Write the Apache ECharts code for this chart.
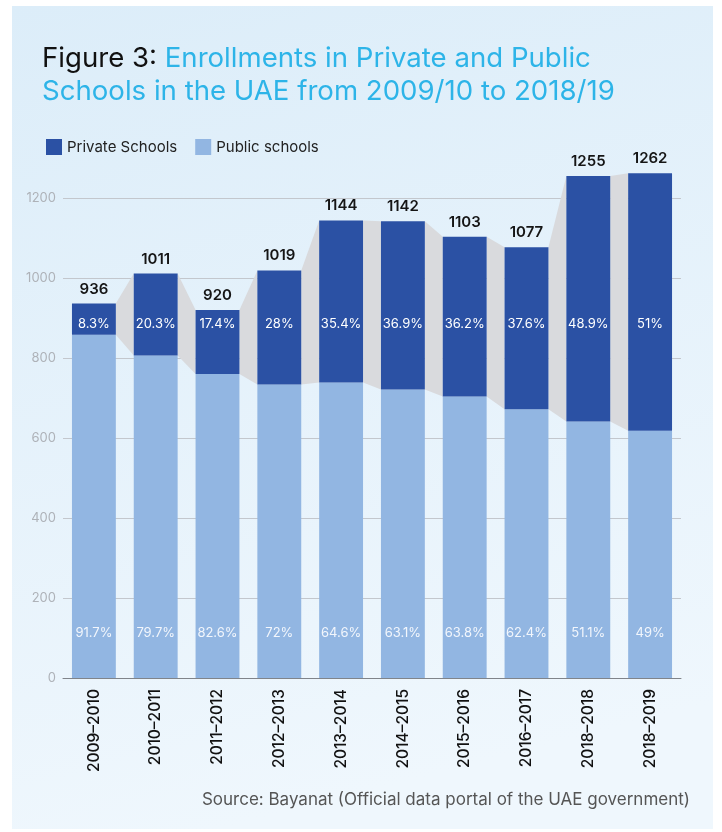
<!DOCTYPE html>
<html>
<head>
<meta charset="utf-8">
<script src="https://cdn.jsdelivr.net/npm/echarts@6/dist/echarts.min.js"></script>
<style>
html,body{margin:0;padding:0;background:#ffffff;}
#c{width:722px;height:832px;}
</style>
</head>
<body>
<div id="c"></div>
<script>
const categories = ['2009–2010','2010–2011','2011–2012','2012–2013','2013–2014','2014–2015','2015–2016','2016–2017','2018–2018','2018–2019'];
const totals = [936, 1011, 920, 1019, 1144, 1142, 1103, 1077, 1255, 1262];
const publicVals = [858, 806, 760, 734, 739, 721, 704, 672, 641, 618];
const privateVals = [78, 205, 160, 285, 405, 421, 399, 405, 614, 644];
const privatePct = ['8.3%','20.3%','17.4%','28%','35.4%','36.9%','36.2%','37.6%','48.9%','51%'];
const publicPct = ['91.7%','79.7%','82.6%','72%','64.6%','63.1%','63.8%','62.4%','51.1%','49%'];
const yTicks = [0, 200, 400, 600, 800, 1000, 1200];

const FONT = 'Inter, "Open Sans", sans-serif';
const BAR_RATIO = 0.71;
const PRIVATE_LABEL_LEVEL = 885;

const chart = echarts.init(document.getElementById('c'), null, {renderer: 'canvas'});

const option = {
  animation: false,
  textStyle: {fontFamily: FONT},
  graphic: [
    {
      type: 'rect', left: 12, top: 6, z: -10,
      shape: {width: 701, height: 823},
      style: {fill: new echarts.graphic.LinearGradient(0, 0, 0.3, 1, [
        {offset: 0, color: '#dcedf9'},
        {offset: 1, color: '#eff7fd'}
      ])}
    },
    {
      type: 'text', left: 42, top: 45,
      style: {
        text: '{a|Figure 3: }{b|Enrollments in Private and Public}\n{b|Schools in the UAE from 2009/10 to 2018/19}',
        rich: {
          a: {fontFamily: FONT, fontSize: 27.6, fill: '#111111', lineHeight: 33},
          b: {fontFamily: FONT, fontSize: 27.6, fill: '#2db4e8', lineHeight: 33}
        }
      }
    },
    {
      type: 'text', right: 32, top: 791,
      style: {text: 'Source: Bayanat (Official data portal of the UAE government)', fontFamily: FONT, fontSize: 17, fill: '#555555'}
    }
  ],
  legend: {
    left: 41, top: 134,
    itemWidth: 16, itemHeight: 16, itemGap: 18,
    icon: 'rect',
    data: ['Private Schools', 'Public schools'],
    textStyle: {fontFamily: FONT, fontSize: 15, color: '#222222'}
  },
  grid: {left: 63, right: 41, top: 198, bottom: 154, containLabel: false},
  xAxis: {
    type: 'category',
    data: categories,
    axisLine: {lineStyle: {color: '#80848a', width: 1}},
    axisTick: {show: false},
    axisLabel: {rotate: 90, fontSize: 15.5, color: '#111111', margin: 11, fontFamily: FONT, fontWeight: 500}
  },
  yAxis: {
    type: 'value', min: yTicks[0], max: yTicks[yTicks.length - 1], interval: 200,
    axisLine: {show: false}, axisTick: {show: false},
    axisLabel: {fontSize: 13, color: '#aeb2b8', margin: 7, fontFamily: FONT, formatter: v => String(v)},
    splitLine: {lineStyle: {color: '#c3c7cd', width: 1}}
  },
  series: [
    {
      name: 'connectors', type: 'custom', z: 1, clip: false, silent: true,
      data: categories.slice(0, -1).map((c, i) => [i]),
      encode: {x: 0},
      renderItem: function (params, api) {
        const i = params.dataIndex;
        const band = api.size([1, 0])[0];
        const hw = band * BAR_RATIO / 2;
        const a1 = api.coord([i, totals[i]]);
        const a2 = api.coord([i, publicVals[i]]);
        const b1 = api.coord([i + 1, totals[i + 1]]);
        const b2 = api.coord([i + 1, publicVals[i + 1]]);
        return {
          type: 'polygon',
          shape: {points: [[a1[0] + hw, a1[1]], [b1[0] - hw, b1[1]], [b2[0] - hw, b2[1]], [a2[0] + hw, a2[1]]]},
          style: {fill: '#d9dadd'}
        };
      }
    },
    {
      name: 'Public schools', type: 'bar', stack: 's', z: 3, clip: false,
      barCategoryGap: '29%',
      itemStyle: {color: '#92b6e2'},
      data: publicVals,
      label: {
        show: true, position: 'insideBottom', distance: 38,
        formatter: p => publicPct[p.dataIndex],
        color: '#f2f6fc', fontSize: 13, fontFamily: FONT
      }
    },
    {
      name: 'Private Schools', type: 'bar', stack: 's', z: 3, clip: false,
      barCategoryGap: '29%',
      itemStyle: {color: '#2b51a4'},
      data: privateVals,
      label: {
        show: true, position: 'top', distance: 7,
        formatter: p => String(totals[p.dataIndex]),
        color: '#151515', fontSize: 15, fontWeight: 600, fontFamily: FONT
      }
    },
    {
      name: 'privateLabels', type: 'custom', z: 5, clip: false, silent: true,
      data: categories.map((c, i) => [i]),
      encode: {x: 0},
      renderItem: function (params, api) {
        const i = params.dataIndex;
        const p = api.coord([i, PRIVATE_LABEL_LEVEL]);
        return {
          type: 'text',
          style: {text: privatePct[i], x: p[0], y: p[1], align: 'center', verticalAlign: 'middle',
                  fill: '#ffffff', fontSize: 13, fontFamily: FONT}
        };
      }
    }
  ]
};
chart.setOption(option);
</script>
</body>
</html>
